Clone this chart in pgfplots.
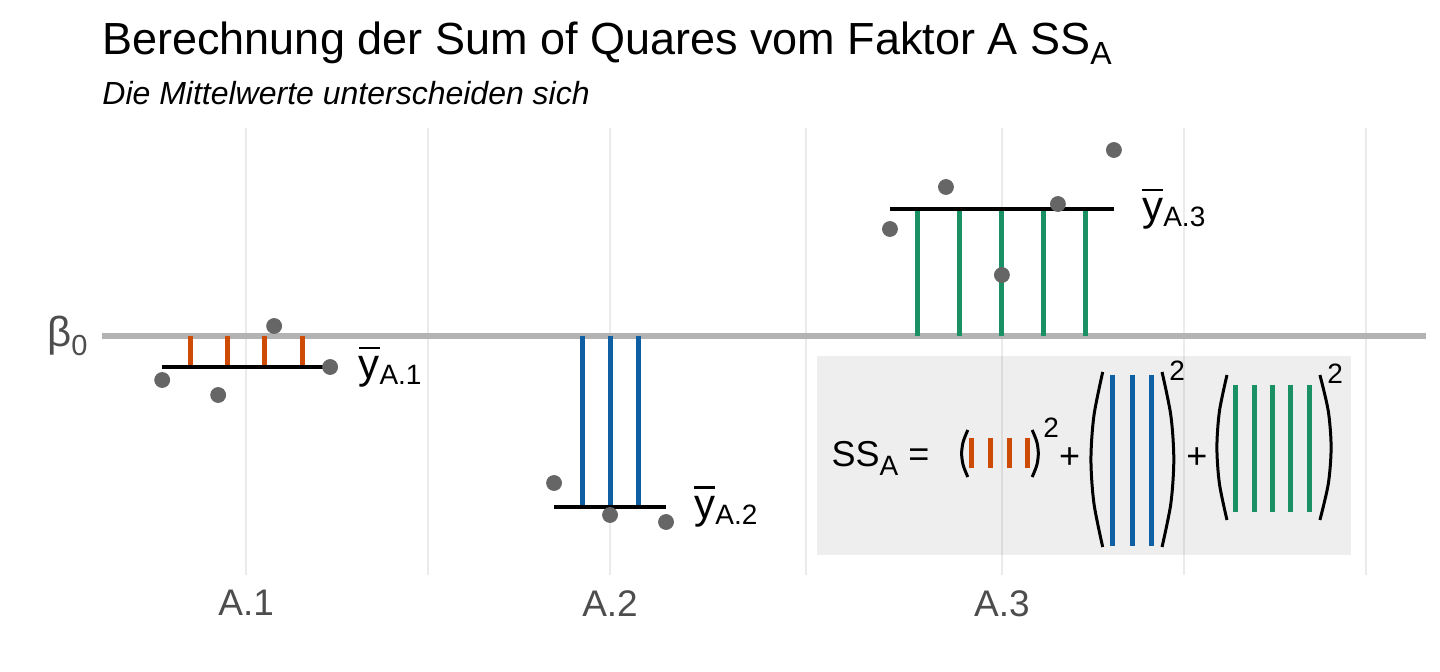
\documentclass[border=0pt]{standalone}
\usepackage{fontspec}
\setmainfont{Liberation Sans}
\usepackage{pgfplots}
\pgfplotsset{compat=1.18}

\definecolor{pt}{HTML}{666666}
\definecolor{gridc}{HTML}{EBEBEB}
\definecolor{hl}{HTML}{B3B3B3}
\definecolor{txt}{HTML}{4D4D4D}
\definecolor{orA}{RGB}{205,75,5}
\definecolor{blA}{RGB}{15,95,165}
\definecolor{grA}{RGB}{25,145,100}

\newcommand{\fs}[1]{\fontsize{#1}{#1}\selectfont}
% y with bar and a subscript
\newcommand{\ybar}[1]{\makebox[0pt][l]{\raisebox{0.7em}{\rule{0.5em}{0.055em}}}y\raisebox{-0.15em}{\fs{14bp}#1}}

\begin{document}
\begin{tikzpicture}
\path[use as bounding box] (-51bp,-48.5bp) rectangle (669bp,287.5bp);

% title and subtitle
\node[anchor=base west, inner sep=0pt] at (0bp,260bp)
  {\fs{22.5bp}Berechnung der Sum of Quares vom Faktor A SS\raisebox{-0.22em}{\fs{16bp}A}};
\node[anchor=base west, inner sep=0pt] at (0bp,235bp)
  {\fs{16bp}\itshape Die Mittelwerte unterscheiden sich};

\begin{axis}[
  at={(0,0)}, anchor=south west,
  scale only axis, width=662bp, height=223.5bp,
  xmin=-0.075, xmax=23.575, ymin=-2.39, ymax=2.08,
  axis line style={draw=none},
  major tick length=0pt, minor tick length=0pt,
  xtick={2.5,9,16}, xticklabels={A.1,A.2,A.3},
  minor xtick={5.75,12.5,19.25,22.5},
  xmajorgrids, xminorgrids,
  major grid style={gridc, line width=1.1bp},
  minor grid style={gridc, line width=0.9bp},
  ytick={0}, yticklabels={β\raisebox{-0.22em}{\fs{14.5bp}0}},
  xticklabel style={font=\fs{18.5bp}, text=txt, anchor=north, inner sep=0pt, yshift=-7.5bp},
  yticklabel style={font=\fs{21bp}, text=txt, anchor=east, inner sep=0pt, xshift=-7bp},
  clip=false,
  unbounded coords=jump,
]
% beta_0 reference line
\addplot[hl, line width=2.8bp] coordinates {(-0.075,0) (23.575,0)};

% deviations of the group means from beta_0
\addplot[orA, line width=2.5bp] coordinates {
  (1.5,0) (1.5,-0.31) (1.5,nan)
  (2.167,0) (2.167,-0.31) (2.167,nan)
  (2.833,0) (2.833,-0.31) (2.833,nan)
  (3.5,0) (3.5,-0.31)};
\addplot[blA, line width=2.5bp] coordinates {
  (8.5,0) (8.5,-1.707) (8.5,nan)
  (9,0) (9,-1.707) (9,nan)
  (9.5,0) (9.5,-1.707)};
\addplot[grA, line width=2.5bp] coordinates {
  (14.5,0) (14.5,1.27) (14.5,nan)
  (15.25,0) (15.25,1.27) (15.25,nan)
  (16,0) (16,1.27) (16,nan)
  (16.75,0) (16.75,1.27) (16.75,nan)
  (17.5,0) (17.5,1.27)};

% group means
\addplot[black, line width=2bp] coordinates {
  (1,-0.31) (4,-0.31) (4,nan)
  (8,-1.707) (10,-1.707) (10,nan)
  (14,1.27) (18,1.27)};

% observations
\addplot[only marks, mark=*, mark size=3.75bp, mark options={draw=pt, fill=pt}] coordinates {
  (1,-0.44) (2,-0.59) (3,0.10) (4,-0.31)
  (8,-1.47) (9,-1.79) (10,-1.86)
  (14,1.07) (15,1.49) (16,0.61) (17,1.32) (18,1.86)};

\node[anchor=west, inner sep=0pt, font=\fs{21bp}] at (axis cs:4.5,-0.31) {\ybar{A.1}};
\node[anchor=west, inner sep=0pt, font=\fs{21bp}] at (axis cs:10.5,-1.707) {\ybar{A.2}};
\node[anchor=west, inner sep=0pt, font=\fs{21bp}] at (axis cs:18.5,1.27) {\ybar{A.3}};

% formula box
\addplot[draw=none, fill=black, fill opacity=0.065] coordinates {
  (12.70,-0.20) (22.23,-0.20) (22.23,-2.19) (12.70,-2.19)};

\node[anchor=west, inner sep=0pt, font=\fs{18bp}] at (axis cs:12.95,-1.22)
  {SS\raisebox{-0.25em}{\fs{14bp}A} =};

\addplot[orA, line width=2.5bp] coordinates {
  (15.46,-1.02) (15.46,-1.32) (15.46,nan)
  (15.80,-1.02) (15.80,-1.32) (15.80,nan)
  (16.13,-1.02) (16.13,-1.32) (16.13,nan)
  (16.46,-1.02) (16.46,-1.32)};
\addplot[blA, line width=2.5bp] coordinates {
  (17.98,-0.39) (17.98,-2.10) (17.98,nan)
  (18.33,-0.39) (18.33,-2.10) (18.33,nan)
  (18.68,-0.39) (18.68,-2.10)};
\addplot[grA, line width=2.5bp] coordinates {
  (20.18,-0.49) (20.18,-1.76) (20.18,nan)
  (20.51,-0.49) (20.51,-1.76) (20.51,nan)
  (20.83,-0.49) (20.83,-1.76) (20.83,nan)
  (21.16,-0.49) (21.16,-1.76) (21.16,nan)
  (21.49,-0.49) (21.49,-1.76)};

% parentheses
\addplot[black, line width=1.5bp, smooth] coordinates {
  (15.39,-0.94) (15.308,-1.0575) (15.28,-1.175) (15.308,-1.2925) (15.39,-1.41)};
\addplot[black, line width=1.5bp, smooth] coordinates {
  (16.54,-0.94) (16.623,-1.0575) (16.65,-1.175) (16.623,-1.2925) (16.54,-1.41)};
\addplot[black, line width=1.5bp, smooth] coordinates {
  (17.80,-0.36) (17.643,-0.7975) (17.59,-1.235) (17.643,-1.6725) (17.80,-2.11)};
\addplot[black, line width=1.5bp, smooth] coordinates {
  (18.86,-0.36) (19.018,-0.7975) (19.07,-1.235) (19.018,-1.6725) (18.86,-2.11)};
\addplot[black, line width=1.5bp, smooth] coordinates {
  (20.02,-0.39) (19.885,-0.7525) (19.84,-1.115) (19.885,-1.4775) (20.02,-1.84)};
\addplot[black, line width=1.5bp, smooth] coordinates {
  (21.68,-0.39) (21.83,-0.7525) (21.88,-1.115) (21.83,-1.4775) (21.68,-1.84)};

\node[inner sep=0pt, font=\fs{14bp}] at (axis cs:16.88,-0.92) {2};
\node[inner sep=0pt, font=\fs{14bp}] at (axis cs:19.13,-0.35) {2};
\node[inner sep=0pt, font=\fs{14bp}] at (axis cs:21.95,-0.38) {2};
\node[inner sep=0pt, font=\fs{18bp}] at (axis cs:17.21,-1.22) {+};
\node[inner sep=0pt, font=\fs{18bp}] at (axis cs:19.48,-1.22) {+};
\end{axis}
\end{tikzpicture}
\end{document}
